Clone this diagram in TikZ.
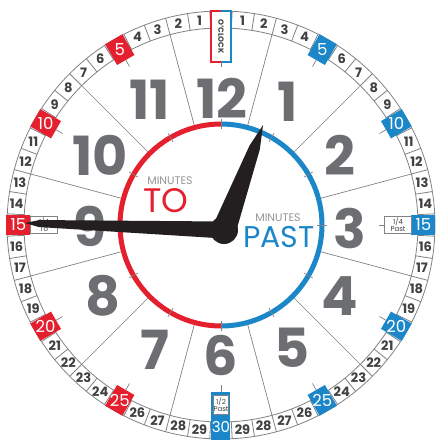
\documentclass[tikz,border=0pt]{standalone}
\usepackage{fontspec}
\setmainfont{Poppins}
\definecolor{cred}{HTML}{E5202E}
\definecolor{cblue}{HTML}{1B87C9}
\definecolor{numgray}{HTML}{6D6E71}
\definecolor{ringtext}{HTML}{414042}
\definecolor{linegray}{HTML}{808285}
\definecolor{mingray}{HTML}{939598}
\definecolor{handblack}{HTML}{231F20}
\tikzset{
  ringline/.style={draw=linegray, line width=0.8pt},
  halfline/.style={draw=linegray, line width=0.7pt},
  ringnum/.style={text=ringtext, font=\fontsize{13}{13}\selectfont\bfseries, inner sep=0pt},
  boxnum/.style={text=white, font=\fontsize{16.5}{16.5}\selectfont, inner sep=0pt},
  hournum/.style={text=numgray, font=\fontsize{54}{54}\selectfont\bfseries, inner sep=0pt},
  fivebox/.style={minimum width=24pt, minimum height=20pt, inner sep=0pt},
  quartbox/.style={draw=linegray, line width=0.6pt, fill=white, minimum width=27pt, minimum height=17pt, inner sep=0pt},
  smalltxt/.style={text=ringtext, font=\fontsize{7}{7}\selectfont, align=center, inner sep=0pt},
  minutestxt/.style={text=mingray, font=\fontsize{11}{11}\selectfont, inner sep=0pt},
}
\begin{document}
\begin{tikzpicture}[x=1pt,y=1pt]
\useasboundingbox (-221,-215) rectangle (215,225);
\fill[white] (-221,-215) rectangle (215,225);

% half-hour radial lines
\foreach \a in {15,45,...,345} \draw[halfline] ({90-\a}:102) -- ({90-\a}:197);

% ring
\draw[ringline] (0,0) circle (197);
\draw[ringline] (0,0) circle (214);
\foreach \k in {0,...,59} \draw[ringline] ({90-6*\k-3}:197) -- ({90-6*\k-3}:214);

% ring numbers
\foreach \k in {1,...,29}{
  \pgfmathtruncatemacro\m{mod(\k,5)}
  \ifnum\m>0
    \node[ringnum] (rp\k) at ({90-6*\k}:205.5) {\k};
    \node[ringnum] (rt\k) at ({90+6*\k}:205.5) {\k};
  \fi
}

% coloured five-minute boxes
\foreach \k in {5,10,15,20,25}{
  \node[fivebox, fill=cblue, rotate={90-6*\k}] (bp\k) at ({90-6*\k}:202.5) {};
  \node[boxnum] (tp\k) at (bp\k.center) {\k};
  \node[fivebox, fill=cred, rotate={90+6*\k}] (bt\k) at ({90+6*\k}:202.5) {};
  \node[boxnum] (tt\k) at (bt\k.center) {\k};
}
\foreach \k in {5,10,20,25}{
  \draw[halfline] ({90-6*\k}:190.5) -- ({90-6*\k}:183);
  \draw[halfline] ({90+6*\k}:190.5) -- ({90+6*\k}:183);
}

% quarter boxes
\node[quartbox] (qp) at (177,0) {};
\node[smalltxt] (qpt) at (qp.center) {1/4\\Past};
\node[quartbox] (qt) at (-177,0) {};
\node[smalltxt] (qtt) at (qt.center) {1/4\\To};
\draw[halfline] (qp.west) -- ++(-5,0);
\draw[halfline] (qt.east) -- ++(5,0);

% O'clock box
\fill[white] (-10,163) rectangle (10,214);
\draw[cred, line width=1.8pt] (0,214) -- (-10,214) -- (-10,163) -- (0,163);
\draw[cblue, line width=1.8pt] (0,214) -- (10,214) -- (10,163) -- (0,163);
\node[text=ringtext, font=\fontsize{7.5}{7.5}\selectfont\bfseries, rotate=-90, inner sep=0pt] (oc) at (0,188.5) {O'CLOCK};
\coordinate (octick) at (0,158);
\draw[halfline] (0,163) -- (octick);

% half past box
\fill[cblue] (-9.5,-167) rectangle (9.5,-216);
\node[draw=linegray, line width=0.5pt, fill=white, minimum width=15pt, minimum height=19pt, inner sep=0pt] (hp) at (0,-180) {};
\node[smalltxt] (hpt) at (hp.center) {1/2\\Past};
\node[text=white, font=\fontsize{15}{15}\selectfont, inner sep=0pt] (t30) at (0,-202.5) {30};
\coordinate (hptick) at (0,-160);
\draw[halfline] (0,-167) -- (hptick);

% inner coloured circle
\draw[cblue, line width=5pt] (90:101) arc (90:-90:101);
\draw[cred, line width=5pt] (90:101) arc (90:270:101);
\foreach \a in {0,30,...,330} \draw[halfline] ({90-\a}:96) -- ({90-\a}:106);

% hour numerals
\node[hournum] (h12) at (1,127) {12};
\node[hournum] (h1) at (67,123) {1};
\node[hournum] (h2) at (119,70) {2};
\node[hournum] (h3) at (129,-3) {3};
\node[hournum] (h4) at (119,-71) {4};
\node[hournum] (h5) at (71,-123) {5};
\node[hournum] (h6) at (0,-130) {6};
\node[hournum] (h7) at (-66,-125) {7};
\node[hournum] (h8) at (-118,-71) {8};
\node[hournum] (h9) at (-131,-1) {9};
\node[hournum] (h10) at (-121,70) {10};
\node[hournum] (h11) at (-71,125) {11};

% minutes to / past
\node[minutestxt] (mto) at (-51,44) {MINUTES};
\node[text=cred, font=\fontsize{34}{34}\selectfont, inner sep=0pt] (to) at (-55,24) {TO};
\node[minutestxt] (mpast) at (57,7) {MINUTES};
\node[text=cblue, font=\fontsize{30}{30}\selectfont, inner sep=0pt] (past) at (58,-12) {PAST};

% hands
\begin{scope}[shift={(3,-5)}, rotate=69.6]
  \fill[handblack] (0,12) -- (88,5.5) -- (112,0) -- (88,-5.5) -- (0,-12) -- cycle;
\end{scope}
\begin{scope}[shift={(3,-5)}, rotate=178]
  \fill[handblack] (0,8.5) -- (185,3.5) -- (199,0) -- (185,-3.5) -- (0,-8.5) -- cycle;
\end{scope}
\fill[handblack] (3,-5) circle (14);
\end{tikzpicture}
\end{document}
